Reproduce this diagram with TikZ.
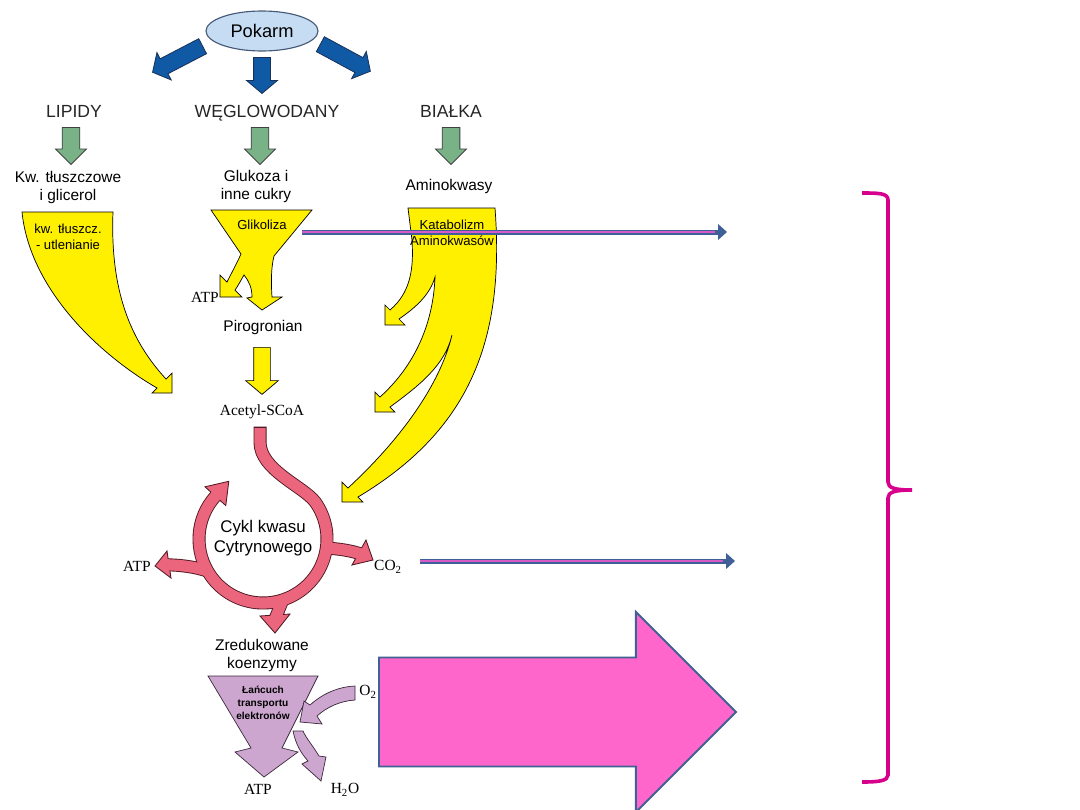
\documentclass[tikz,border=0pt]{standalone}
\usepackage{fontspec}
\setmainfont{Liberation Sans}
\newfontfamily\chemfont{Liberation Serif}
\usetikzlibrary{shapes.geometric, shapes.arrows, arrows.meta}

\definecolor{foodF}{RGB}{197,220,242}
\definecolor{foodD}{RGB}{70,90,120}
\definecolor{blueF}{RGB}{16,90,165}
\definecolor{blueD}{RGB}{25,50,90}
\definecolor{greenF}{RGB}{122,178,136}
\definecolor{yellowF}{RGB}{255,240,0}
\definecolor{cycF}{RGB}{235,102,124}
\definecolor{cycD}{RGB}{80,25,35}
\definecolor{lilaF}{RGB}{204,166,207}
\definecolor{lilaD}{RGB}{60,40,60}
\definecolor{bigF}{RGB}{255,102,204}
\definecolor{bigD}{RGB}{63,98,148}
\definecolor{braceC}{RGB}{214,0,140}
\definecolor{lineB}{RGB}{62,96,150}
\definecolor{lineP}{RGB}{214,90,200}

\begin{document}
\begin{tikzpicture}[
        x=0.025cm, y=-0.025cm,
        food/.style={ellipse, draw=foodD, fill=foodF, line width=0.8pt, minimum width=2.8cm, minimum height=1cm, font=\fontsize{13}{15}\selectfont},
        bluearr/.style={single arrow, draw=blueD, fill=blueF, line width=0.6pt, anchor=tail, inner xsep=0pt, inner ysep=0.2cm, single arrow head extend=0.175cm, single arrow tip angle=100},
        greenarr/.style={single arrow, draw=black!75, fill=greenF, line width=0.6pt, anchor=tail, inner xsep=0pt, inner ysep=0.21cm, minimum height=0.925cm, single arrow head extend=0.165cm, single arrow tip angle=90},
        yarr/.style={single arrow, draw=black, fill=yellowF, line width=0.5pt, anchor=tail, inner xsep=0pt, inner ysep=0.2cm, minimum height=1.175cm, single arrow head extend=0.2cm, single arrow tip angle=100},
        bigarr/.style={single arrow, draw=bigD, fill=bigF, line width=1.4pt, anchor=tail, inner xsep=0pt, inner ysep=1.3375cm, minimum height=8.925cm, single arrow head extend=1.14cm, single arrow tip angle=90},
        yflow/.style={fill=yellowF, draw=black, line width=0.5pt},
        lila/.style={fill=lilaF, draw=lilaD, line width=0.5pt},
        cycdark/.style={draw=cycD, line width=0.325cm},
        cyclight/.style={draw=cycF, line width=0.28cm},
        cychead/.style={fill=cycF, draw=cycD, line width=0.6pt},
        bigtxt/.style={font=\fontsize{12.5}{14}\selectfont, text=black!85, anchor=base},
        midtxt/.style={font=\fontsize{11}{12.8}\selectfont, align=center},
        smalltxt/.style={font=\fontsize{9.3}{11.5}\selectfont, align=center},
        cyktxt/.style={font=\fontsize{12}{14.2}\selectfont, align=center},
        tinytxt/.style={font=\fontsize{7.2}{9.2}\selectfont\bfseries, align=center},
        chem/.style={font=\chemfont\fontsize{11}{13}\selectfont},
        dline/.style={draw=lineB, line width=0.125cm, -{Triangle[length=0.22cm, width=0.38cm]}},
        pline/.style={draw=lineP, line width=0.04cm}
    ]
        \useasboundingbox (0,0) rectangle (1080,810);
        \fill[white] (0,0) rectangle (1080,810);

        \node[food] (pokarm) at (262,31) {Pokarm};
        \node[bluearr, minimum height=1.41cm, rotate=207.5] (bl) at (203,46) {};
        \node[bluearr, minimum height=0.9cm, rotate=-90] (bm) at (262,57) {};
        \node[bluearr, minimum height=1.42cm, rotate=-28.4] (br) at (320,44) {};

        \node[bigtxt] (lipidy) at (74,117) {LIPIDY};
        \node[bigtxt] (wegle) at (267,117) {WĘGLOWODANY};
        \node[bigtxt] (bialka) at (451,117) {BIAŁKA};

        \node[greenarr, rotate=-90] (gl) at (71,127) {};
        \node[greenarr, rotate=-90] (gm) at (260,127) {};
        \node[greenarr, rotate=-90] (gr) at (451,127) {};

        \node[midtxt] (kwasy) at (68,187) {Kw. tłuszczowe\\i glicerol};
        \node[midtxt] (cukry) at (256,186) {Glukoza i\\inne cukry};
        \node[midtxt] (amino) at (449,186) {Aminokwasy};

        % lipidy
        \draw[yflow] (22,212) -- (113,212) .. controls (110,290) and (130,340) .. (166,379)
            -- (172,373) -- (172,393) -- (152,393) -- (157,388)
            .. controls (100,355) and (30,290) .. (22,212) -- cycle;
        % glikoliza
        \draw[yflow] (211,210) -- (312,210) -- (274,256) .. controls (271,268) and (271,283) .. (272,297)
            -- (282,297) -- (262,310) -- (247,298) -- (252,297)
            .. controls (252,288) and (249,281) .. (244,275)
            .. controls (241,280) and (238,286) .. (235,290)
            -- (242,297) -- (220,297) -- (220,275) -- (227,282)
            .. controls (232,272) and (237,263) .. (241,254) -- cycle;
        % katabolizm
        \draw[yflow] (408,208) -- (495,208) .. controls (505,340) and (470,430) .. (358,497)
            -- (363,502) -- (342,502) -- (342,482) -- (348,488)
            .. controls (400,440) and (440,385) .. (452,335)
            .. controls (445,365) and (420,385) .. (390,407)
            -- (395,412) -- (375,412) -- (375,392) -- (380,397)
            .. controls (410,370) and (433,330) .. (435,277)
            .. controls (430,295) and (415,308) .. (399,319)
            -- (405,325) -- (385,325) -- (385,305) -- (390,310)
            .. controls (410,293) and (414,270) .. (412,240) -- cycle;
        \node[yarr, rotate=-90] (ya) at (262,347) {};

        \node[smalltxt] (utlen) at (68,237) {kw. tłuszcz.\\- utlenianie};
        \node[smalltxt] (glik) at (262,225) {Glikoliza};
        \node[smalltxt] (katab) at (452,233) {Katabolizm\\Aminokwasów};
        \node[chem] (atpa) at (205,297) {ATP};
        \node[midtxt] (piro) at (263,327) {Pirogronian};
        \node[chem] (acetyl) at (262,412) {Acetyl-SCoA};

        % cykl
        \draw[cycdark] (260,426.5) -- (260,442) .. controls (260,470) and (303,486) .. (315.17,501.93)
            arc[start angle=-35.4, end angle=222, radius=64] -- ++(2.7,-3);
        \draw[cycdark] (207.6,571) .. controls (195,567) and (182,565) .. (164,564.7);
        \draw[cycdark] (326.4,547.9) .. controls (338,549) and (350,550) .. (363,554.7);
        \draw[cycdark] (282.8,599.9) -- (275,619);
        \draw[cychead] (225.8,505.6) -- (228.8,481.3) -- (205,486.8) -- cycle;
        \draw[cychead] (167,551) -- (155,566) -- (171,578) -- cycle;
        \draw[cychead] (366,540) -- (373,560) -- (352,565) -- cycle;
        \draw[cychead] (260,616) -- (275,633) -- (290,614) -- cycle;
        \draw[cyclight] (260,428) -- (260,442) .. controls (260,470) and (303,486) .. (315.17,501.93)
            arc[start angle=-35.4, end angle=222, radius=64] -- ++(2.7,-3);
        \draw[cyclight] (207.6,571) .. controls (195,567) and (182,565) .. (164,564.7);
        \draw[cyclight] (326.4,547.9) .. controls (338,549) and (350,550) .. (363,554.7);
        \draw[cyclight] (282.8,599.9) -- (275,619);

        \node[cyktxt] (cykl) at (263,538) {Cykl kwasu\\Cytrynowego};
        \node[chem] (atpb) at (137,566) {ATP};
        \node[chem] (co2) at (388,567) {CO\textsubscript{2}};

        \node[midtxt] (zred) at (262,655) {Zredukowane\\koenzymy};
        % lancuch
        \draw[lila] (208,676) -- (318,676) -- (282,748) -- (298,752) -- (264,777) -- (235,752) -- (251,748) -- cycle;
        \draw[lila] (355,686) .. controls (335,687) and (320,696) .. (310,705) -- (304,701) -- (300,722)
            -- (322,724) -- (317,716) .. controls (327,707) and (340,701) .. (355,700) -- cycle;
        \draw[lila] (293,731) .. controls (296,745) and (301,753) .. (308,761) -- (302,764) -- (321,781)
            -- (326,757) -- (319,756) .. controls (313,746) and (306,738) .. (303,731) -- cycle;
        \node[tinytxt] (lanc) at (263,703) {Łańcuch\\transportu\\elektronów};
        \node[chem] (otwo) at (368,692) {O\textsubscript{2}};
        \node[chem] (atpc) at (258,789) {ATP};
        \node[chem] (hwo) at (345,790) {H\textsubscript{2}O};

        \node[bigarr] (big) at (378,712) {};

        \coordinate (ga) at (302,232);
        \coordinate (gb) at (727,232);
        \coordinate (ca) at (420,561);
        \coordinate (cb) at (735,561);
        \draw[dline] (ga) -- (gb);
        \draw[pline] (ga) -- ([xshift=-0.3cm]gb);
        \draw[dline] (ca) -- (cb);
        \draw[pline] (ca) -- ([xshift=-0.3cm]cb);

        \draw[braceC, line width=0.09cm] (862,193) .. controls (878,193) and (888,193) .. (888,200)
            -- (888,482) .. controls (888,488) and (895,490) .. (912,490)
            .. controls (895,490) and (888,492) .. (888,498)
            -- (888,775) .. controls (888,781) and (878,782) .. (862,782);
    \end{tikzpicture}
\end{document}
